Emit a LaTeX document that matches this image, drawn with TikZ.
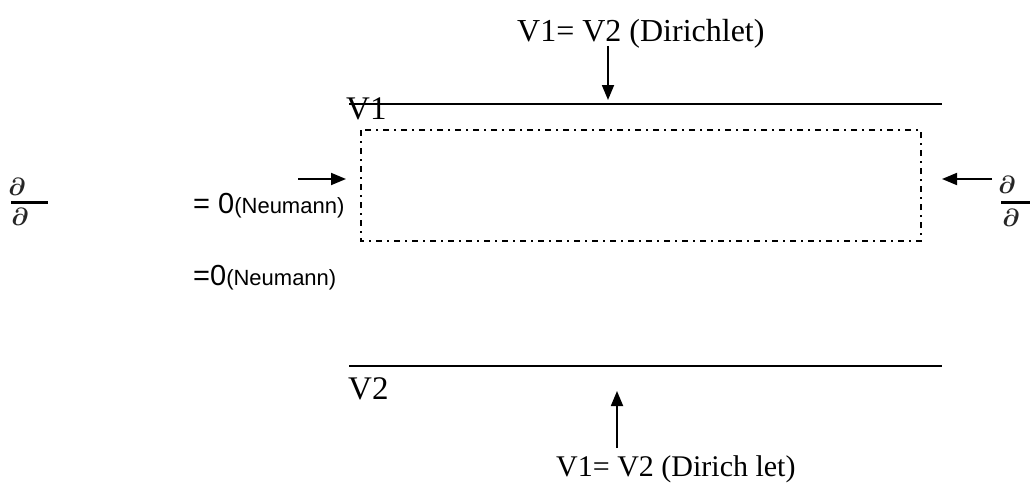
\documentclass[tikz,border=0pt]{standalone}
\usepackage{fontspec}
\setmainfont{Liberation Serif}
\newfontfamily\arial{Liberation Sans}
\usetikzlibrary{arrows.meta}
\tikzset{
  bline/.style={line width=2pt},
  frame/.style={line width=2pt, dash pattern=on 6pt off 5pt on 2pt off 5pt},
  arr/.style={line width=1.8pt, -{Triangle[length=15pt,width=12pt]}},
  lbl/.style={inner sep=0pt, anchor=base west},
  fracbar/.style={line width=3pt},
  pd/.style={inner sep=0pt, font=\fontsize{28}{28}\selectfont\boldmath, text=black!85},
}
\begin{document}
\begin{tikzpicture}[x=1pt,y=-1pt]
\useasboundingbox (0,0) rectangle (1030,487);
% plates
\coordinate (t1) at (349,104);
\coordinate (t2) at (942,104);
\coordinate (b1) at (349,366);
\coordinate (b2) at (942,366);
\draw[bline] (t1) -- (t2);
\draw[bline] (b1) -- (b2);
% dash-dot box
\coordinate (r1) at (361,130);
\coordinate (r2) at (921,241);
\draw[frame] (r1) rectangle (r2);
% labels
\node[lbl, font=\fontsize{33}{33}\selectfont] (v1) at (346,119) {V1};
\node[lbl, font=\fontsize{33}{33}\selectfont] (v2) at (348,399) {V2};
\node[lbl, font=\fontsize{32}{32}\selectfont] (top) at (517,42) {V1= V2 (Dirichlet)};
\node[lbl, font=\fontsize{30}{30}\selectfont] (bot) at (556,476) {V1= V2 (Dirich let)};
% top / bottom arrows
\coordinate (ta) at (608,46);
\coordinate (tb) at (608,100);
\draw[arr] (ta) -- (tb);
\coordinate (ba) at (617,448);
\coordinate (bb) at (617,391);
\draw[arr] (ba) -- (bb);
% side arrows
\coordinate (la) at (298,179);
\coordinate (lb) at (346,179);
\draw[arr] (la) -- (lb);
\coordinate (ra) at (992,179);
\coordinate (rb) at (942,179);
\draw[arr] (ra) -- (rb);
% Neumann texts
\node[lbl] (n1) at (193,213) {\arial\fontsize{29}{29}\selectfont = 0\fontsize{22}{22}\selectfont(Neumann)};
\node[lbl] (n2) at (193,285) {\arial\fontsize{29}{29}\selectfont =0\fontsize{22}{22}\selectfont(Neumann)};
% fractions
\coordinate (f1) at (11,202);
\coordinate (f2) at (48,202);
\draw[fracbar] (f1) -- (f2);
\node[pd] (p1) at (17,187) {$\partial$};
\node[pd] (p2) at (20,217) {$\partial$};
\coordinate (g1) at (1001,202);
\coordinate (g2) at (1030,202);
\draw[fracbar] (g1) -- (g2);
\node[pd] (q1) at (1007,185) {$\partial$};
\node[pd] (q2) at (1011,218) {$\partial$};
\end{tikzpicture}
\end{document}
